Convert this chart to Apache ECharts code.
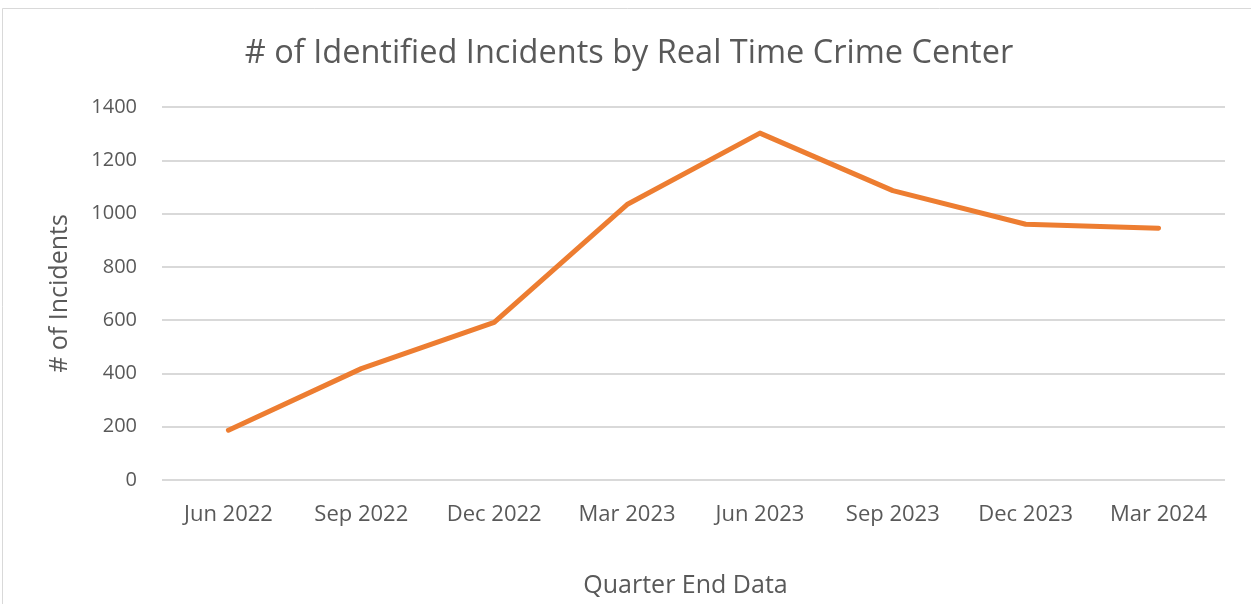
<!DOCTYPE html>
<html><head><meta charset="utf-8">
<script src="https://cdn.jsdelivr.net/npm/echarts@6/dist/echarts.min.js"></script>
<style>html,body{margin:0;padding:0;background:#fff}#c{width:1251px;height:604px}</style>
</head><body><div id="c"></div>
<script>
const categories = ["Jun 2022","Sep 2022","Dec 2022","Mar 2023","Jun 2023","Sep 2023","Dec 2023","Mar 2024"];
const incidents = [187, 418, 592, 1034, 1302, 1086, 960, 945];
const yTicks = [0, 200, 400, 600, 800, 1000, 1200, 1400];
const FONT = "'Open Sans', sans-serif";
const chart = echarts.init(document.getElementById('c'));
chart.setOption({
  animation: false,
  backgroundColor: '#fff',
  graphic: [{type:'rect', shape:{x:2.5,y:8.5,width:1260,height:620}, style:{fill:'none',stroke:'#D9D9D9',lineWidth:1}}],
  title: {text:'# of Identified Incidents by Real Time Crime Center', left:624, top:32, textAlign:'center',
    textStyle:{fontFamily:FONT, fontSize:32.5, fontWeight:'normal', color:'#595959'}},
  grid: {left:162, right:26, top:107, bottom:124, containLabel:false},
  xAxis: {type:'category', data:categories, boundaryGap:true,
    name:'Quarter End Data', nameLocation:'middle', nameGap:93,
    nameTextStyle:{fontFamily:FONT, fontSize:25, color:'#595959', padding:[0,16,0,0]},
    axisLine:{show:false}, axisTick:{show:false},
    axisLabel:{fontFamily:FONT, fontSize:22, color:'#595959', margin:24, interval:0}},
  yAxis: {type:'value', min:yTicks[0], max:yTicks[yTicks.length-1], interval:200,
    name:'# of Incidents', nameLocation:'middle', nameGap:90, nameRotate:90,
    nameTextStyle:{fontFamily:FONT, fontSize:25, color:'#595959'},
    axisLine:{show:false}, axisTick:{show:false},
    axisLabel:{fontFamily:FONT, fontSize:20, color:'#595959', margin:25, formatter: v => String(v)},
    splitLine:{lineStyle:{color:'#D9D9D9', width:2}}},
  series: [{type:'line', data:incidents, symbol:'none', lineStyle:{color:'#ED7D31', width:5, cap:'round', join:'round'}}]
});
</script></body></html>
